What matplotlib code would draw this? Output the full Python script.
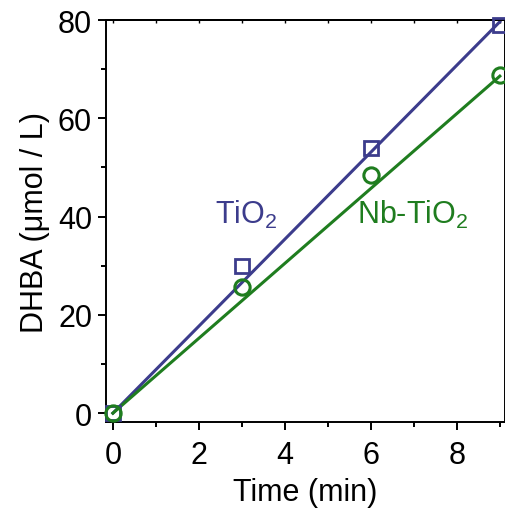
import matplotlib
matplotlib.use("Agg")
import matplotlib.pyplot as plt
import numpy as np
from matplotlib.ticker import MultipleLocator, NullFormatter

plt.rcParams["font.family"] = ["Liberation Sans", "DejaVu Sans"]
plt.rcParams["mathtext.fontset"] = "custom"
plt.rcParams["mathtext.rm"] = "Liberation Sans"
plt.rcParams["mathtext.it"] = "Liberation Sans:italic"

# data
time_min = [0, 3, 6, 9]
tio2 = [0.0, 30.0, 54.0, 79.0]
nb_tio2 = [0.0, 25.6, 48.5, 68.8]
# slopes of the drawn linear fits (umol/L per min), lines through origin
slope_tio2 = 8.85
slope_nb = 7.62
fit_x = [0, 9]

BLUE = "#3c3c8c"
GREEN = "#1f7d1f"
FS = 22

fig = plt.figure(figsize=(5.06, 5.10), dpi=100)
ax = fig.add_axes([0.2095, 0.1706, 0.7885, 0.7882])

fx = np.array(fit_x, dtype=float)
ax.plot(fx, slope_tio2 * fx, color=BLUE, lw=2.2, zorder=2)
ax.plot(fx, slope_nb * fx, color=GREEN, lw=2.2, zorder=2)
ax.plot(time_min, tio2, ls="none", marker="s", ms=10, mfc="none",
        mec=BLUE, mew=2.0, clip_on=False, zorder=3)
ax.plot(time_min, nb_tio2, ls="none", marker="o", ms=11, mfc="none",
        mec=GREEN, mew=2.2, clip_on=False, zorder=3)

ax.text(2.37, 40.5, r"TiO$_\mathrm{2}$", color=BLUE, fontsize=FS, va="center", ha="left")
ax.text(5.67, 40.5, r"Nb-TiO$_\mathrm{2}$", color=GREEN, fontsize=FS, va="center", ha="left")

ax.set_xlim(-0.16, 9.12)
ax.set_ylim(-1.8, 80)
ax.xaxis.set_major_locator(MultipleLocator(2))
ax.xaxis.set_minor_locator(MultipleLocator(1))
ax.yaxis.set_major_locator(MultipleLocator(20))
ax.yaxis.set_minor_locator(MultipleLocator(10))

ax.set_xlabel("Time (min)", fontsize=FS, labelpad=5)
ax.set_ylabel("DHBA (\u03bcmol / L)", fontsize=FS, labelpad=6)

for s in ax.spines.values():
    s.set_linewidth(1.4)
ax.tick_params(which="major", direction="out", length=6, width=1.4,
               labelsize=FS, pad=4)
ax.tick_params(which="minor", direction="out", length=3.5, width=1.4)
ax.tick_params(axis="x", which="major", pad=7)

# small inward ticks along the top frame
top = ax.secondary_xaxis("top")
top.xaxis.set_major_locator(MultipleLocator(1))
top.xaxis.set_major_formatter(NullFormatter())
top.tick_params(direction="in", length=2.5, width=1.0)
top.spines["top"].set_linewidth(1.4)

plt.savefig("out.png", dpi=100)
